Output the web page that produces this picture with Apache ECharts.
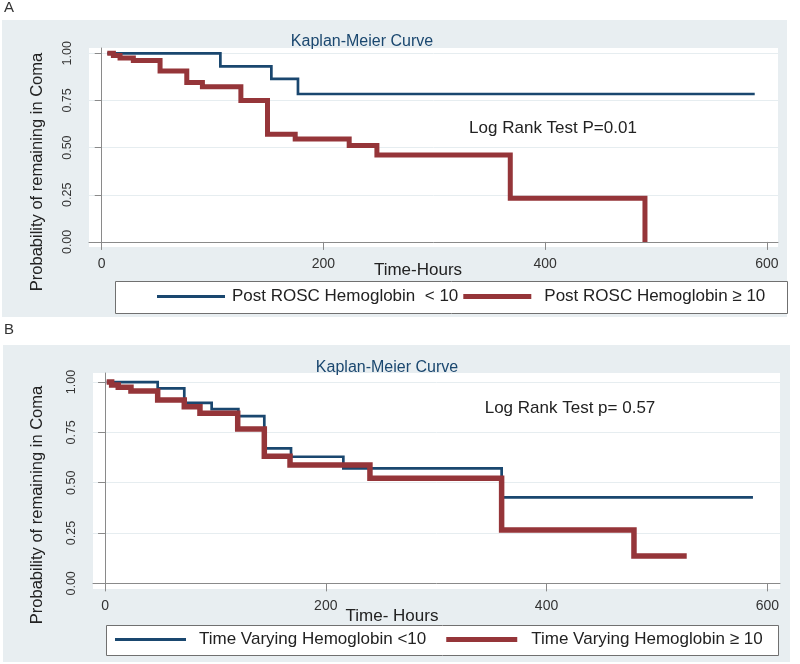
<!DOCTYPE html>
<html>
<head>
<meta charset="utf-8">
<script src="https://cdn.jsdelivr.net/npm/echarts@6/dist/echarts.min.js"></script>
<style>
  html, body { margin: 0; padding: 0; background: #fff; }
  #chart { width: 800px; height: 664px; }
</style>
</head>
<body>
<div id="chart"></div>
<script>
// panel A: post ROSC hemoglobin
const timeA_low = [5, 107, 153, 177, 589];
const survA_low = [1, 0.931, 0.864, 0.784, 0.784];
const timeA_high = [5, 10.5, 16.5, 28.5, 52.6, 76.7, 90.8, 125.5, 149.5, 174.5, 223.2, 248.2, 368.5, 490];
const survA_high = [1, 0.988, 0.975, 0.962, 0.906, 0.845, 0.822, 0.75, 0.571, 0.545, 0.511, 0.461, 0.231, 0];

// panel B: time varying hemoglobin
const timeB_low = [1.5, 47.7, 71.8, 96.6, 120.8, 144.3, 168.5, 215.9, 359.3, 587];
const survB_low = [1, 0.969, 0.897, 0.866, 0.831, 0.671, 0.629, 0.571, 0.427, 0.427];
const timeB_high = [1.5, 6, 12, 23.5, 47.7, 71.8, 86, 120.2, 144.3, 167.6, 240, 359.3, 479.2, 527];
const survB_high = [1, 0.985, 0.974, 0.955, 0.911, 0.877, 0.845, 0.767, 0.632, 0.588, 0.522, 0.265, 0.136, 0.136];

const xTicks = [0, 200, 400, 600];
const yTicks = [0, 0.25, 0.5, 0.75, 1];

const namesA = ['Post ROSC Hemoglobin  < 10', 'Post ROSC Hemoglobin \u2265 10'];
const namesB = ['Time Varying Hemoglobin <10', 'Time Varying Hemoglobin \u2265 10'];

const FONT = '"Liberation Sans", Arial, sans-serif';
const NAVY = '#1a476f';
const MAROON = '#953539';

function pairs(ts, ss) {
  return ts.map((t, i) => [t, ss[i]]);
}

function xAxisFor(gi, min, max) {
  return {
    gridIndex: gi, type: 'value', min: min, max: max,
    axisLine: { show: true, lineStyle: { color: '#8a8a8a', width: 1 } },
    axisTick: { show: true, length: 8, customValues: xTicks, lineStyle: { color: '#8a8a8a' } },
    axisLabel: { customValues: xTicks, fontSize: 14, color: '#333', fontFamily: FONT, margin: 10 },
    splitLine: { show: false }
  };
}

function yAxisFor(gi, min, max) {
  return {
    gridIndex: gi, type: 'value', min: min, max: max,
    axisLine: { show: true, lineStyle: { color: '#8a8a8a', width: 1 } },
    axisTick: { show: true, length: 7, customValues: yTicks, lineStyle: { color: '#8a8a8a' } },
    axisLabel: {
      customValues: yTicks, rotate: 90, fontSize: 12.5, color: '#333', fontFamily: FONT, margin: 15,
      formatter: v => v.toFixed(2)
    },
    splitLine: { show: true, lineStyle: { color: '#e6edf0', width: 1 } }
  };
}

function kmSeries(name, xi, data, color, width) {
  return {
    name: name, type: 'line', step: 'end', xAxisIndex: xi, yAxisIndex: xi,
    showSymbol: false, symbol: 'none', data: data,
    lineStyle: { color: color, width: width, join: 'miter' },
    itemStyle: { color: color }
  };
}

function txt(x, y, text, size, color, extra) {
  return Object.assign({
    type: 'text', x: x, y: y, z: 10,
    style: { text: text, fontSize: size, fill: color, fontFamily: FONT, align: 'center', verticalAlign: 'middle' }
  }, extra || {});
}

const chart = echarts.init(document.getElementById('chart'));

chart.setOption({
  animation: false,
  backgroundColor: '#fff',
  grid: [
    { left: 89, top: 48, right: 22, bottom: 417, show: true, backgroundColor: '#fff', borderWidth: 0 },
    { left: 93, top: 373, right: 20, bottom: 75, show: true, backgroundColor: '#fff', borderWidth: 0 }
  ],
  xAxis: [xAxisFor(0, -11.5, 610), xAxisFor(1, -10.9, 611.5)],
  yAxis: [yAxisFor(0, -0.027, 1.028), yAxisFor(1, -0.028, 1.045)],
  legend: [
    {
      left: 157, top: 288, padding: 0, itemWidth: 68, itemHeight: 6, itemGap: 5, z: 6,
      textStyle: { fontSize: 17, color: '#222', fontFamily: FONT },
      data: [
        { name: namesA[0], icon: 'path://M0,0H68V3H0Z', textStyle: { padding: [0, 0, 0, 2] } },
        { name: namesA[1], icon: 'path://M0,0H68V5H0Z', textStyle: { padding: [0, 0, 0, 8] } }
      ]
    },
    {
      left: 115, top: 631, padding: 0, itemWidth: 71, itemHeight: 6, itemGap: 20, z: 6,
      textStyle: { fontSize: 17, color: '#222', fontFamily: FONT },
      data: [
        { name: namesB[0], icon: 'path://M0,0H71V3H0Z', textStyle: { padding: [0, 0, 0, 8] } },
        { name: namesB[1], icon: 'path://M0,0H71V5H0Z', textStyle: { padding: [0, 0, 0, 9] } }
      ]
    }
  ],
  graphic: [
    { type: 'rect', z: -10, shape: { x: 2, y: 20, width: 785, height: 297 }, style: { fill: '#e8eef1' } },
    { type: 'rect', z: -10, shape: { x: 3, y: 345, width: 787, height: 317 }, style: { fill: '#e8eef1' } },
    { type: 'rect', z: 3, shape: { x: 115.5, y: 281.5, width: 672, height: 32 }, style: { fill: '#fff', stroke: '#707070', lineWidth: 1 } },
    { type: 'rect', z: 3, shape: { x: 106.5, y: 625.5, width: 672, height: 30 }, style: { fill: '#fff', stroke: '#707070', lineWidth: 1 } },
    txt(9, 8, 'A', 15, '#333'),
    txt(9, 330, 'B', 15, '#333'),
    txt(362, 42, 'Kaplan-Meier Curve', 16, NAVY),
    txt(387, 368, 'Kaplan-Meier Curve', 16, NAVY),
    txt(553, 128, 'Log Rank Test P=0.01', 17, '#222'),
    txt(570, 408, 'Log Rank Test p= 0.57', 17, '#222'),
    txt(418, 270, 'Time-Hours', 17, '#222'),
    txt(392, 616, 'Time- Hours', 17, '#222'),
    txt(37, 172, 'Probability of remaining in Coma', 16.5, '#222', { rotation: Math.PI / 2 }),
    txt(37, 505, 'Probability of remaining in Coma', 16.5, '#222', { rotation: Math.PI / 2 })
  ],
  series: [
    kmSeries(namesA[0], 0, pairs(timeA_low, survA_low), NAVY, 2.7),
    kmSeries(namesA[1], 0, pairs(timeA_high, survA_high), MAROON, 5),
    kmSeries(namesB[0], 1, pairs(timeB_low, survB_low), NAVY, 2.7),
    kmSeries(namesB[1], 1, pairs(timeB_high, survB_high), MAROON, 5.5)
  ]
});
</script>
</body>
</html>
